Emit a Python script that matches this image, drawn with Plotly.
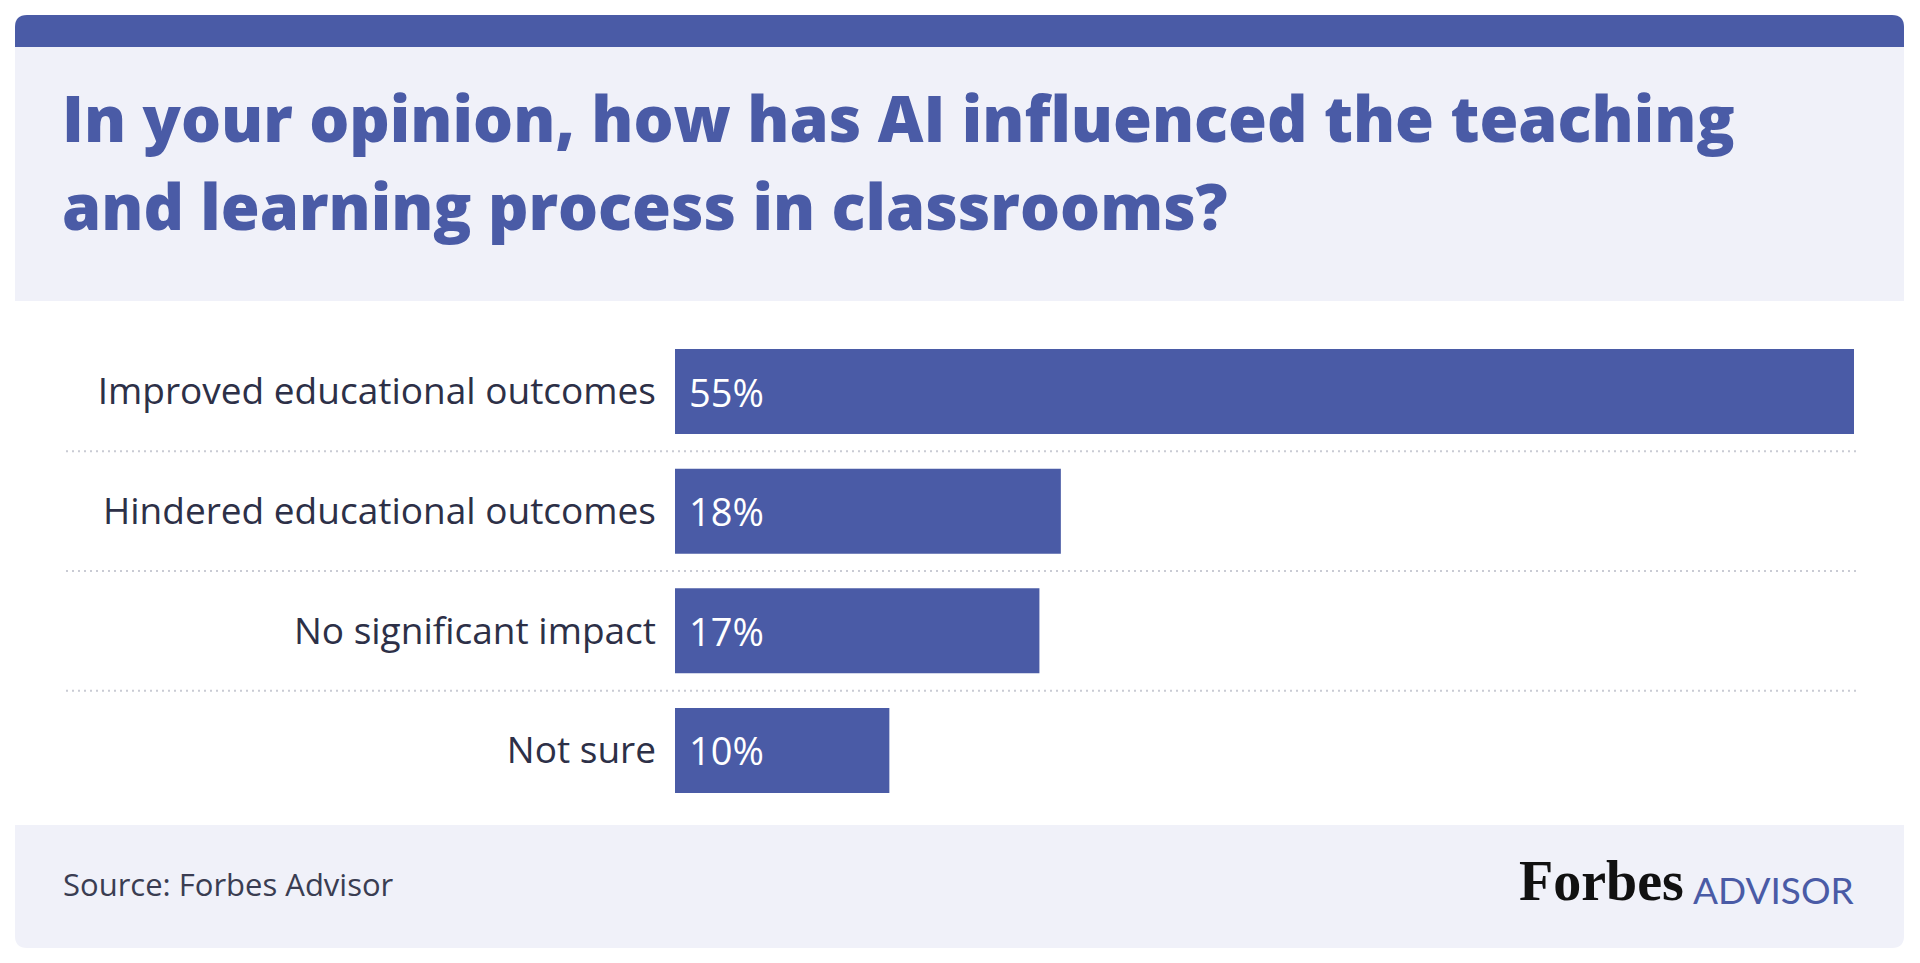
import plotly.graph_objects as go

# ---- data ----
categories = ["Improved educational outcomes", "Hindered educational outcomes",
              "No significant impact", "Not sure"]
values = [55, 18, 17, 10]
value_labels = ["55%", "18%", "17%", "10%"]

title_lines = ["In your opinion, how has AI influenced the teaching",
               "and learning process in classrooms?"]
source_text = "Source: Forbes Advisor"

OFF = 8  # default body margin of the html page
W, H = 1920 - 2 * OFF, 963 - 2 * OFF
BLUE = "#4a5ba6"
PANEL = "#f0f1f9"
TEXT = "#2d3047"


def px(x):
    return (x - OFF) / W


def py(y):
    return 1 - (y - OFF) / H


fig = go.Figure()
fig.add_trace(go.Bar(
    x=values, y=categories, orientation="h",
    marker=dict(color=BLUE, line=dict(width=0)),
    hoverinfo="skip", showlegend=False,
))

shapes = []
r = 12
x0, x1, y0, y1 = 15, 1904, 15, 48
path = (f"M {px(x0)},{py(y1)} L {px(x0)},{py(y0 + r)} "
        f"Q {px(x0)},{py(y0)} {px(x0 + r)},{py(y0)} "
        f"L {px(x1 - r)},{py(y0)} Q {px(x1)},{py(y0)} {px(x1)},{py(y0 + r)} "
        f"L {px(x1)},{py(y1)} Z")
shapes.append(dict(type="path", xref="paper", yref="paper", path=path,
                   fillcolor=BLUE, line=dict(width=0), layer="below"))
shapes.append(dict(type="rect", xref="paper", yref="paper",
                   x0=px(15), x1=px(1904), y0=py(301), y1=py(47),
                   fillcolor=PANEL, line=dict(width=0), layer="below"))
fy0, fy1 = 825, 948
path2 = (f"M {px(x0)},{py(fy0)} L {px(x1)},{py(fy0)} "
         f"L {px(x1)},{py(fy1 - r)} Q {px(x1)},{py(fy1)} {px(x1 - r)},{py(fy1)} "
         f"L {px(x0 + r)},{py(fy1)} Q {px(x0)},{py(fy1)} {px(x0)},{py(fy1 - r)} Z")
shapes.append(dict(type="path", xref="paper", yref="paper", path=path2,
                   fillcolor=PANEL, line=dict(width=0), layer="below"))
for i in range(len(categories) - 1):
    shapes.append(dict(type="line", xref="paper", yref="y",
                       x0=px(66), x1=px(1856), y0=i + 0.5, y1=i + 0.5,
                       line=dict(color="#c9cbd4", width=2, dash="2px,4px"),
                       layer="below"))

annotations = []
for i, line in enumerate(title_lines):
    annotations.append(dict(
        text=line, xref="paper", yref="paper", x=px(60), y=py([145, 233][i]),
        xanchor="left", yanchor="bottom", showarrow=False, yshift=-17,
        font=dict(family="Open Sans", size=63, color=BLUE, weight=800)))
for c, lab in zip(categories, value_labels):
    annotations.append(dict(
        text=lab, x=0, y=c, xref="x", yref="y", xanchor="left", yanchor="middle",
        xshift=12, showarrow=False,
        font=dict(family="Open Sans", size=38, color="white")))
annotations.append(dict(
    text=source_text, xref="paper", yref="paper", x=px(61), y=py(884),
    xanchor="left", yanchor="middle", showarrow=False,
    font=dict(family="Open Sans", size=31, color="#3a3d52")))
annotations.append(dict(
    text="<b>Forbes</b>", xref="paper", yref="paper", x=px(1686), y=py(881),
    xanchor="right", yanchor="middle", showarrow=False,
    font=dict(family="Liberation Serif", size=56, color="#111111")))
annotations.append(dict(
    text="ADVISOR", xref="paper", yref="paper", x=px(1856), y=py(889),
    xanchor="right", yanchor="middle", showarrow=False,
    font=dict(family="Lato", size=37, color=BLUE)))

fig.update_layout(
    width=W, height=H,
    margin=dict(l=0, r=0, t=0, b=0),
    paper_bgcolor="white", plot_bgcolor="rgba(0,0,0,0)",
    bargap=0.29,
    shapes=shapes, annotations=annotations,
    xaxis=dict(domain=[px(675), px(1854)], range=[0, 55], visible=False,
               fixedrange=True),
    yaxis=dict(domain=[py(810.3), py(331.7)], autorange="reversed",
               showgrid=False, zeroline=False, showline=False, ticks="",
               ticklabelstandoff=18,
               tickfont=dict(family="Open Sans", size=37, color=TEXT),
               fixedrange=True),
)

fig.write_html("out.html", config=dict(displayModeBar=False))
